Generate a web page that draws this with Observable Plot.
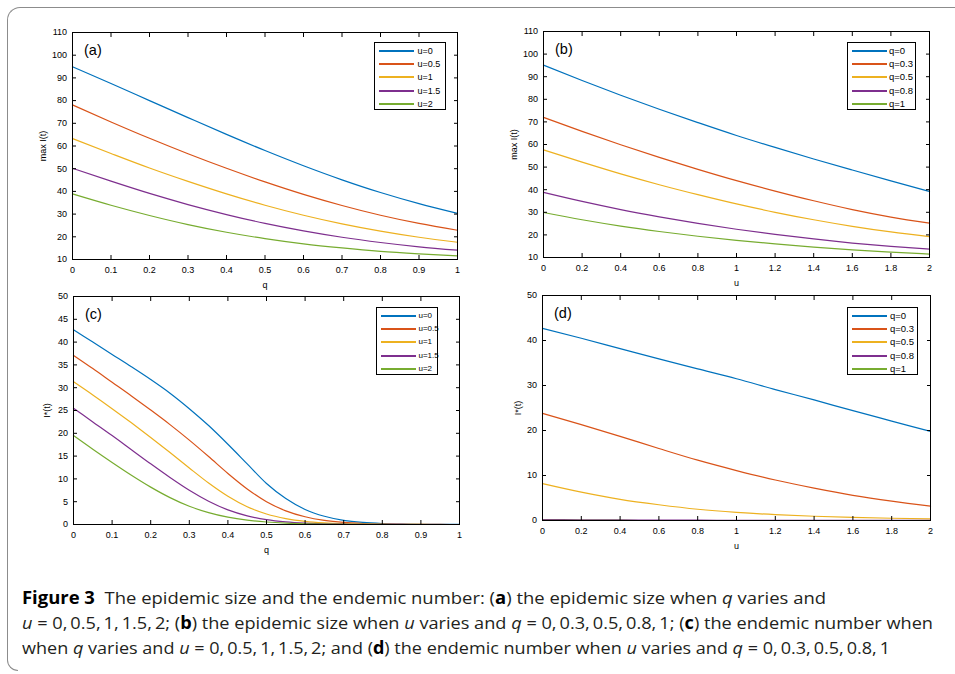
<!DOCTYPE html>
<html>
<head>
<meta charset="utf-8">
<script src="https://cdn.jsdelivr.net/npm/d3@7"></script>
<script src="https://cdn.jsdelivr.net/npm/@observablehq/plot@0.6"></script>
<style>
  html, body { margin: 0; padding: 0; background: #fff; }
  #wrap { position: relative; width: 955px; height: 674px; overflow: hidden; background: #fff;
          font-family: "Liberation Sans", Arial, Helvetica, sans-serif; }
  .border { position: absolute; left: 7px; top: 7px; width: 1000px; height: 651px;
            border-left: 1.3px solid #8c8c8c; border-top: 1.3px solid #8c8c8c; border-top-left-radius: 13px; }
  .corner { position: absolute; left: 7px; top: 650px; width: 10px; height: 20px;
            border-left: 1.3px solid #8c8c8c; border-bottom: 1.3px solid #8c8c8c; border-bottom-left-radius: 13px; }
  .panel { position: absolute; }
  .legend { position: absolute; height: 68px; border: 1px solid #000; background: #fff; box-sizing: border-box; }
  .legend .row { position: absolute; left: 0; height: 0; }
  .legend .sw { position: absolute; top: -1px; height: 2px; width: 35px; }
  .legend .lb { position: absolute; top: -6px; line-height: 12px; color: #000; white-space: nowrap; }
  .cap { position: absolute; left: 22px; white-space: nowrap; font-family: "Open Sans", "Noto Sans", sans-serif;
         font-size: 17px; color: #231f20; transform-origin: 0 0; line-height: 20px; }
  .cap b { font-weight: 700; color: #000; }
</style>
</head>
<body>
<div id="wrap">
  <div class="border"></div>
  <div class="corner"></div>
</div>
<script>
// ---------- data ----------
const colors = ["#0072BD", "#D95319", "#EDB120", "#7E2F8E", "#77AC30"];
const uNames = ["u=0", "u=0.5", "u=1", "u=1.5", "u=2"];
const qNames = ["q=0", "q=0.3", "q=0.5", "q=0.8", "q=1"];

const qGrid = [0, 0.1, 0.2, 0.3, 0.4, 0.5, 0.6, 0.7, 0.8, 0.9, 1];
const uGrid = [0, 0.2, 0.4, 0.6, 0.8, 1, 1.2, 1.4, 1.6, 1.8, 2];
const qFine = [0, 0.05, 0.1, 0.15, 0.2, 0.25, 0.3, 0.35, 0.4, 0.45, 0.5,
               0.55, 0.6, 0.65, 0.7, 0.75, 0.8, 0.85, 0.9, 0.95, 1];

const qTicks = [0, 0.1, 0.2, 0.3, 0.4, 0.5, 0.6, 0.7, 0.8, 0.9, 1];
const uTicks = [0, 0.2, 0.4, 0.6, 0.8, 1, 1.2, 1.4, 1.6, 1.8, 2];
const maxTicks = [10, 20, 30, 40, 50, 60, 70, 80, 90, 100, 110];
const endTicksC = [0, 5, 10, 15, 20, 25, 30, 35, 40, 45, 50];
const endTicksD = [0, 10, 20, 30, 40, 50];

// (a) max I(t) vs q for u = 0, 0.5, 1, 1.5, 2
const a_u0  = [94.9, 87.5, 80.0, 72.5, 65.1, 58.0, 51.3, 45.1, 39.5, 34.6, 30.3];
const a_u05 = [78.1, 70.6, 63.4, 56.6, 50.2, 44.2, 38.7, 33.8, 29.5, 25.9, 22.9];
const a_u1  = [63.3, 56.7, 50.3, 44.4, 38.9, 33.9, 29.5, 25.7, 22.5, 19.8, 17.6];
const a_u15 = [50.2, 44.5, 39.1, 34.2, 29.8, 25.9, 22.6, 19.8, 17.5, 15.6, 14.1];
const a_u2  = [38.9, 33.9, 29.4, 25.4, 22.0, 19.2, 16.9, 15.1, 13.6, 12.5, 11.6];

// (b) max I(t) vs u for q = 0, 0.3, 0.5, 0.8, 1
const b_q0  = [95.1, 88.3, 81.8, 75.6, 69.7, 64.0, 58.7, 53.6, 48.7, 43.9, 39.2];
const b_q03 = [72.0, 65.8, 59.9, 54.3, 49.0, 44.0, 39.4, 35.1, 31.2, 27.9, 25.2];
const b_q05 = [57.6, 52.2, 47.0, 42.2, 37.8, 33.7, 30.0, 26.7, 23.8, 21.3, 19.2];
const b_q08 = [38.8, 34.8, 31.2, 28.0, 25.1, 22.5, 20.2, 18.2, 16.4, 14.9, 13.7];
const b_q1  = [29.9, 26.7, 23.9, 21.5, 19.4, 17.6, 16.0, 14.6, 13.4, 12.4, 11.5];

// (c) I*(t) vs q for u = 0, 0.5, 1, 1.5, 2
const c_u0  = [42.7, 40.0, 37.3, 34.6, 31.8, 28.8, 25.4, 21.7, 17.6, 13.3, 9.0,
               5.7, 3.3, 1.8, 0.9, 0.45, 0.22, 0.1, 0.05, 0.02, 0.01];
const c_u05 = [37.1, 34.2, 31.2, 28.2, 25.1, 21.9, 18.5, 14.9, 11.2, 7.8, 5.0,
               3.0, 1.7, 0.9, 0.45, 0.22, 0.1, 0.05, 0.02, 0.01, 0];
const c_u1  = [31.3, 28.4, 25.4, 22.3, 19.1, 15.8, 12.4, 9.1, 6.2, 3.9, 2.3,
               1.3, 0.7, 0.37, 0.19, 0.1, 0.05, 0.02, 0.01, 0, 0];
const c_u15 = [25.5, 22.5, 19.5, 16.4, 13.3, 10.3, 7.5, 5.1, 3.2, 1.9, 1.05,
               0.56, 0.29, 0.15, 0.07, 0.035, 0.015, 0.01, 0, 0, 0];
const c_u2  = [19.5, 16.5, 13.6, 10.8, 8.2, 5.9, 4.0, 2.6, 1.6, 0.95, 0.55,
               0.3, 0.16, 0.08, 0.04, 0.02, 0.01, 0, 0, 0, 0];

// (d) I*(t) vs u for q = 0, 0.3, 0.5, 0.8, 1
const d_q0  = [42.7, 40.5, 38.2, 35.9, 33.7, 31.5, 29.1, 26.8, 24.4, 22.1, 19.8];
const d_q03 = [23.8, 21.3, 18.7, 16.0, 13.4, 11.1, 9.0, 7.2, 5.6, 4.3, 3.2];
const d_q05 = [8.2, 6.3, 4.7, 3.5, 2.5, 1.8, 1.3, 0.95, 0.7, 0.5, 0.35];
const d_q08 = [0.2, 0.16, 0.12, 0.09, 0.07, 0.05, 0.04, 0.03, 0.02, 0.02, 0.01];
const d_q1  = [0.01, 0.01, 0.01, 0, 0, 0, 0, 0, 0, 0, 0];

// ---------- caption text ----------
const captionLines = [
  '<b>Figure 3</b>&nbsp; The epidemic size and the endemic number: (<b>a</b>) the epidemic size when <i>q</i> varies and',
  '<i>u</i> = 0,&thinsp;0.5,&thinsp;1,&thinsp;1.5,&thinsp;2; (<b>b</b>) the epidemic size when <i>u</i> varies and <i>q</i> = 0,&thinsp;0.3,&thinsp;0.5,&thinsp;0.8,&thinsp;1; (<b>c</b>) the endemic number when',
  'when <i>q</i> varies and <i>u</i> = 0,&thinsp;0.5,&thinsp;1,&thinsp;1.5,&thinsp;2; and (<b>d</b>) the endemic number when <i>u</i> varies and <i>q</i> = 0,&thinsp;0.3,&thinsp;0.5,&thinsp;0.8,&thinsp;1'
];

// ---------- helpers ----------
function rows(xs, series, names) {
  const out = [];
  series.forEach((ys, i) => ys.forEach((y, j) => out.push({x: xs[j], y, s: names[i]})));
  return out;
}

const wrap = document.getElementById("wrap");

function panel(cfg) {
  const fmt = d => String(d);
  const svg = Plot.plot({
    width: cfg.w, height: cfg.h,
    marginLeft: cfg.m[0], marginRight: cfg.m[1], marginTop: cfg.m[2], marginBottom: cfg.m[3],
    style: {fontFamily: '"Liberation Sans", Arial, Helvetica, sans-serif', fontSize: "9px", color: "#000", background: "transparent", overflow: "visible"},
    x: {domain: cfg.xDomain},
    y: {domain: cfg.yDomain},
    color: {domain: cfg.names, range: colors},
    marks: [
      Plot.line(rows(cfg.xs, cfg.series, cfg.names), {x: "x", y: "y", stroke: "s", z: "s", strokeWidth: 1.2, curve: "monotone-x"}),
      Plot.frame({stroke: "#000", strokeWidth: 1}),
      Plot.axisX(cfg.xTicks, {anchor: "bottom", tickSize: -4, tickPadding: 11, tickFormat: fmt, fontSize: 9,
        label: cfg.xLabel, labelAnchor: "center", labelArrow: "none", labelOffset: 28}),
      Plot.axisX(cfg.xTicks, {anchor: "top", tickSize: -4, fill: "none", label: null}),
      Plot.axisY(cfg.yTicks, {anchor: "left", tickSize: -4, tickPadding: 9.5, tickFormat: fmt, fontSize: 9,
        label: cfg.yLabel, labelAnchor: "center", labelArrow: "none", labelOffset: cfg.yLabelOffset}),
      Plot.axisY(cfg.yTicks, {anchor: "right", tickSize: -4, fill: "none", label: null}),
      Plot.text([cfg.tag], {frameAnchor: "top-left", dx: 11.5, dy: 12, fontSize: 14.5, lineAnchor: "top", textAnchor: "start"})
    ]
  });
  const div = document.createElement("div");
  div.className = "panel";
  div.style.left = cfg.left + "px";
  div.style.top = cfg.top + "px";
  div.style.width = cfg.w + "px";
  div.appendChild(svg);
  wrap.appendChild(div);

  // legend (inside the axes, like the original)
  const lg = document.createElement("div");
  lg.className = "legend";
  lg.style.left = cfg.legend[0] + "px";
  lg.style.top = cfg.legend[1] + "px";
  lg.style.width = cfg.legend[2] + "px";
  cfg.names.forEach((n, i) => {
    const r = document.createElement("div");
    r.className = "row";
    r.style.top = Math.round(8 + i * 13.2) + "px";
    const sw = document.createElement("div");
    sw.className = "sw";
    sw.style.left = cfg.legend[3] + "px";
    sw.style.background = colors[i];
    const lb = document.createElement("div");
    lb.className = "lb";
    lb.style.left = cfg.legend[4] + "px";
    lb.style.fontSize = cfg.legend[5] + "px";
    lb.textContent = n;
    r.appendChild(sw); r.appendChild(lb);
    lg.appendChild(r);
  });
  wrap.appendChild(lg);
}

panel({left: 0, top: 0, w: 480, h: 290, m: [72, 23, 32, 31],
  xDomain: [0, 1], yDomain: [10, 110], xTicks: qTicks, yTicks: maxTicks,
  xs: qGrid, series: [a_u0, a_u05, a_u1, a_u15, a_u2], names: uNames,
  xLabel: "q", yLabel: "max I(t)", yLabelOffset: 33, tag: "(a)",
  legend: [374, 42, 71.5, 3.5, 42.5, 9]});

panel({left: 475, top: 0, w: 480, h: 290, m: [68, 26, 31, 33],
  xDomain: [0, 2], yDomain: [10, 110], xTicks: uTicks, yTicks: maxTicks,
  xs: uGrid, series: [b_q0, b_q03, b_q05, b_q08, b_q1], names: qNames,
  xLabel: "u", yLabel: "max I(t)", yLabelOffset: 33, tag: "(b)",
  legend: [846.5, 42, 69.5, 4, 41.5, 9.5]});

panel({left: 0, top: 285, w: 480, h: 270, m: [73, 21, 11, 31],
  xDomain: [0, 1], yDomain: [0, 50], xTicks: qTicks, yTicks: endTicksC,
  xs: qFine, series: [c_u0, c_u05, c_u1, c_u15, c_u2], names: uNames,
  xLabel: "q", yLabel: "I*(t)", yLabelOffset: 30, tag: "(c)",
  legend: [376, 307, 62, 4, 41.5, 8]});

panel({left: 475, top: 285, w: 480, h: 270, m: [67, 25, 10, 35],
  xDomain: [0, 2], yDomain: [0, 50], xTicks: uTicks, yTicks: endTicksD,
  xs: uGrid, series: [d_q0, d_q03, d_q05, d_q08, d_q1], names: qNames,
  xLabel: "u", yLabel: "I*(t)", yLabelOffset: 28, tag: "(d)",
  legend: [847, 307, 70.5, 3.5, 42, 9.5]});

// caption
const capTops = [588, 613, 638];
const capRight = [826, 933, 890];
captionLines.forEach((html, i) => {
  const el = document.createElement("div");
  el.className = "cap";
  el.style.top = capTops[i] + "px";
  el.innerHTML = html;
  wrap.appendChild(el);
  const w = el.getBoundingClientRect().width;
  const target = capRight[i] - 22;
  el.style.transform = `scaleX(${target / w})`;
});
</script>
</body>
</html>
